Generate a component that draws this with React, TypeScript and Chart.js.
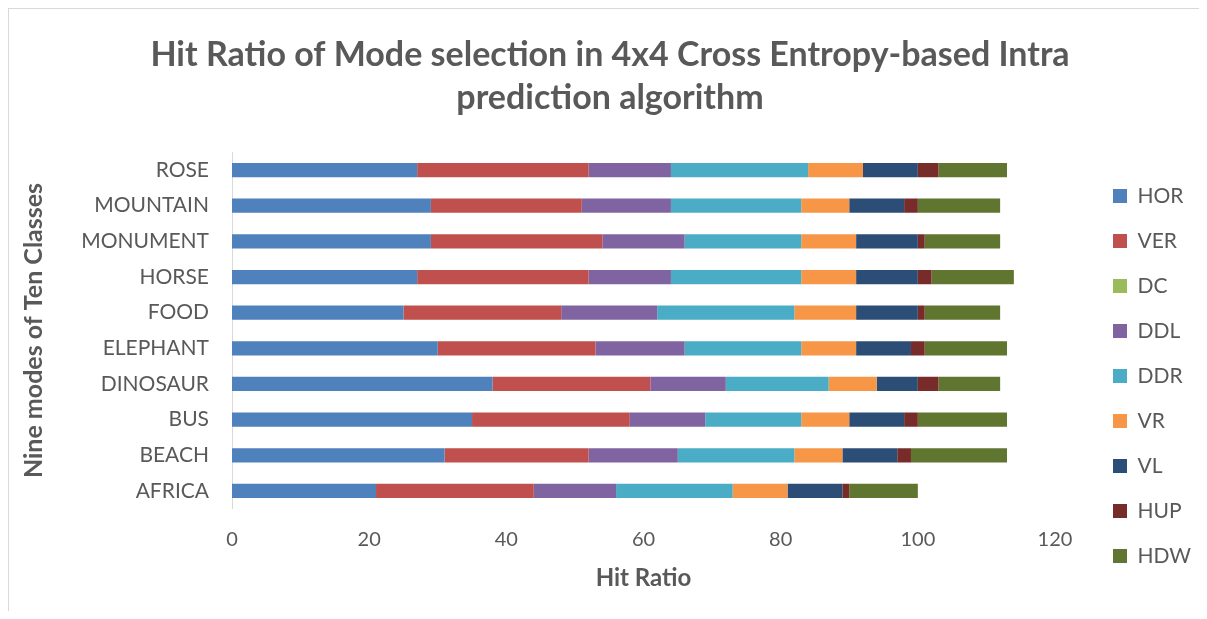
import React, { useEffect, useRef } from "react";
import { Chart, registerables } from "chart.js";

Chart.register(...registerables);

const categories = ["ROSE", "MOUNTAIN", "MONUMENT", "HORSE", "FOOD", "ELEPHANT", "DINOSAUR", "BUS", "BEACH", "AFRICA"];
const seriesNames = ["HOR", "VER", "DC", "DDL", "DDR", "VR", "VL", "HUP", "HDW"];
const HOR = [27, 29, 29, 27, 25, 30, 38, 35, 31, 21];
const VER = [25, 22, 25, 25, 23, 23, 23, 23, 21, 23];
const DC = [0, 0, 0, 0, 0, 0, 0, 0, 0, 0];
const DDL = [12, 13, 12, 12, 14, 13, 11, 11, 13, 12];
const DDR = [20, 19, 17, 19, 20, 17, 15, 14, 17, 17];
const VR = [8, 7, 8, 8, 9, 8, 7, 7, 7, 8];
const VL = [8, 8, 9, 9, 9, 8, 6, 8, 8, 8];
const HUP = [3, 2, 1, 2, 1, 2, 3, 2, 2, 1];
const HDW = [10, 12, 11, 12, 11, 12, 9, 13, 14, 10];
const seriesValues = [HOR, VER, DC, DDL, DDR, VR, VL, HUP, HDW];
const seriesColors = ["#4F81BD", "#C0504D", "#9BBB59", "#8064A2", "#4BACC6", "#F79646", "#2C4D75", "#772C2A", "#5F7530"];
const xMin = 0;
const xMax = 120;
const xStep = 20;

const titleLines = ["Hit Ratio of Mode selection in 4x4 Cross Entropy-based Intra", "prediction algorithm"];
const xTitle = "Hit Ratio";
const yTitle = "Nine modes of Ten Classes";

const FONT = "Lato, 'Open Sans', sans-serif";
const TEXT = "#595959";

const CW = 1190;
const CH = 602;
const AREA_LEFT = 223;
const AREA_RIGHT = 1046;
const AREA_BOTTOM = 499.8;
const PAD_LEFT = 12;

export default function App() {
  const ref = useRef<HTMLCanvasElement | null>(null);

  useEffect(() => {
    if (!ref.current) return;
    const legendFix = {
      id: "legendFix",
      beforeLayout(chart: any) {
        const lg = chart.legend;
        if (lg && !lg.__patched) {
          const orig = lg.fit.bind(lg);
          lg.fit = function () {
            orig();
            this.width = CW - AREA_RIGHT;
          };
          lg.__patched = true;
        }
      },
      afterLayout(chart: any) {
        const lg = chart.legend;
        if (!lg) return;
        const w = lg.width;
        lg.left = 1080;
        lg.right = lg.left + w;
        lg.top = 143;
        lg.bottom = 591;
      },
    };

    const chart = new Chart(ref.current, {
      type: "bar",
      data: {
        labels: categories,
        datasets: seriesNames.map((name, i) => ({
          label: name,
          data: seriesValues[i],
          backgroundColor: seriesColors[i],
          borderWidth: 0,
          barPercentage: 0.4,
          categoryPercentage: 1.0,
        })),
      },
      options: {
        indexAxis: "y",
        responsive: false,
        animation: false,
        layout: { padding: { left: PAD_LEFT, right: 0, top: 0, bottom: 0 } },
        plugins: {
          title: {
            display: true,
            text: titleLines,
            color: TEXT,
            font: { family: FONT, size: 34, weight: "bold", lineHeight: 43 / 34 },
            padding: { top: 24.5, bottom: 32.7 },
          },
          legend: {
            display: true,
            position: "right",
            labels: {
              color: TEXT,
              font: { family: FONT, size: 21 },
              boxWidth: 14,
              boxHeight: 14,
              padding: 24,
            },
          },
          tooltip: { enabled: false },
        },
        scales: {
          x: {
            stacked: true,
            min: xMin,
            max: xMax,
            ticks: { stepSize: xStep, color: TEXT, font: { family: FONT, size: 20 }, padding: 19 },
            grid: { display: false, drawTicks: false },
            border: { display: false },
            title: {
              display: true,
              text: xTitle,
              color: TEXT,
              font: { family: FONT, size: 24, weight: "bold", lineHeight: 1 },
              padding: { top: 0, bottom: 21 },
            },
            afterFit(scale: any) {
              scale.height = CH - AREA_BOTTOM;
            },
          },
          y: {
            stacked: true,
            ticks: { color: TEXT, font: { family: FONT, size: 21 }, padding: 23 },
            grid: { display: false, drawTicks: false },
            border: { display: true, color: "#D9D9D9", width: 1 },
            title: {
              display: true,
              text: yTitle,
              color: TEXT,
              font: { family: FONT, size: 25, weight: "bold", lineHeight: 1 },
              padding: { top: 0, bottom: 0 },
            },
            afterFit(scale: any) {
              scale.width = AREA_LEFT - PAD_LEFT;
            },
          },
        },
      },
      plugins: [legendFix],
    } as any);

    return () => chart.destroy();
  }, []);

  return (
    <div style={{ borderLeft: "1px solid #D9D9D9", borderTop: "1px solid #D9D9D9", width: CW, height: CH }}>
      <canvas ref={ref} width={CW} height={CH} style={{ display: "block", width: CW, height: CH }} />
    </div>
  );
}
